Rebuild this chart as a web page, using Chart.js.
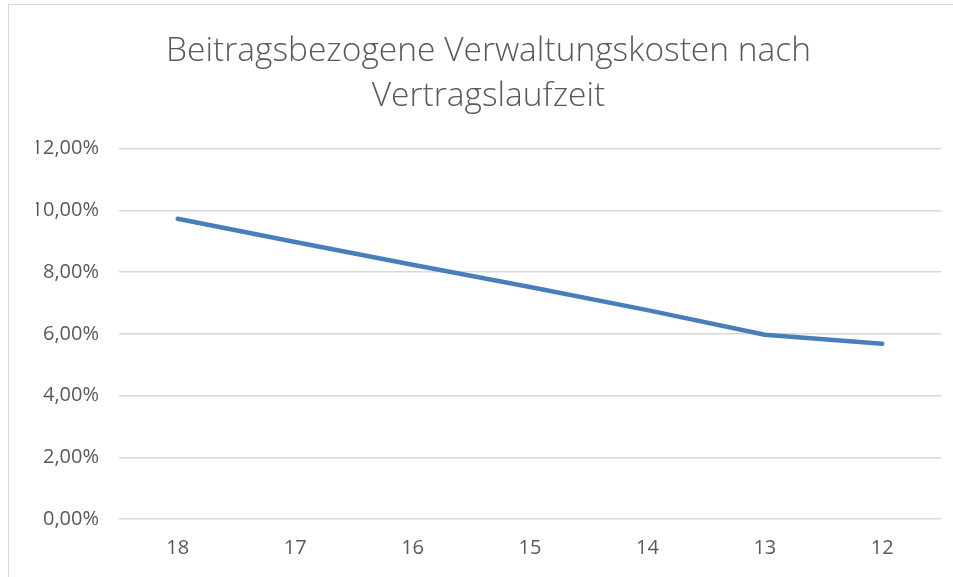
<!DOCTYPE html>
<html>
<head>
<meta charset="utf-8">
<script src="https://cdn.jsdelivr.net/npm/chart.js@4.4.0/dist/chart.umd.min.js"></script>
<style>
    html, body { margin: 0; padding: 0; background: #ffffff; overflow: hidden; }
    .frame { position: absolute; left: 8px; top: 4px; width: 980px; height: 600px; border: 1px solid #d9d9d9; }
    .wrap { position: absolute; left: 0; top: 0; width: 953px; height: 577px; }
</style>
</head>
<body>
<div class="frame"></div>
<div class="wrap"><canvas id="chart"></canvas></div>
<script>
// Vertragslaufzeit (Jahre)
let categories = ['18', '17', '16', '15', '14', '13', '12'];
// Beitragsbezogene Verwaltungskosten in %
let costValues = [9.73, 8.98, 8.24, 7.52, 6.77, 5.97, 5.68];
let yTicks = [0, 2, 4, 6, 8, 10, 12];
let titleLines = ['Beitragsbezogene Verwaltungskosten nach', 'Vertragslaufzeit'];

function InitChart()
{
    let ctx = document.getElementById('chart').getContext('2d');

    new Chart(ctx, {
        type: 'line',
        data: {
            labels: categories,
            datasets: [
                {
                    label: 'Verwaltungskosten',
                    data: costValues,
                    borderColor: '#4a7ebb',
                    borderWidth: 4.5,
                    borderCapStyle: 'round',
                    borderJoinStyle: 'round',
                    pointRadius: 0,
                    fill: false,
                    tension: 0
                }
            ]
        },
        options: {
            responsive: true,
            maintainAspectRatio: false,
            animation: false,
            layout: {
                padding: { left: 36, right: 12, top: 0, bottom: 0 } // сдвиг заголовка вправо
            },
            plugins: {
                legend: { display: false },
                tooltip: { enabled: false },
                title: {
                    display: true,
                    text: titleLines,
                    color: '#595959',
                    font: { family: 'Open Sans', size: 33.5, weight: '300', lineHeight: 1.34 },
                    padding: { top: 29, bottom: 30 }
                }
            },
            scales: {
                x: {
                    offset: true,
                    grid: { display: false, drawTicks: false },
                    border: { display: false },
                    ticks: {
                        color: '#595959',
                        font: { family: 'Open Sans', size: 20 },
                        padding: 17
                    },
                    afterFit: function (scale) { scale.height = 58; }
                },
                y: {
                    min: 0,
                    max: 12,
                    afterBuildTicks: function (scale) {
                        scale.ticks = yTicks.map(function (v) { return { value: v }; });
                    },
                    grid: { color: '#d9d9d9', lineWidth: 1.5, drawTicks: false },
                    border: { display: false },
                    ticks: {
                        color: '#595959',
                        font: { family: 'Open Sans', size: 20 },
                        padding: 20,
                        callback: function (v) { return v.toFixed(2).replace('.', ',') + '%'; }
                    },
                    afterFit: function (scale) { scale.width = 83; }
                }
            }
        }
    });
}

InitChart();
</script>
</body>
</html>
